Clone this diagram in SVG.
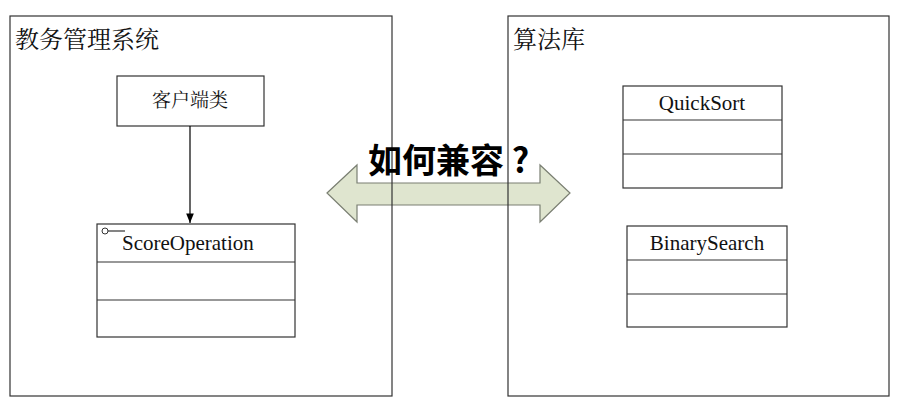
<svg xmlns="http://www.w3.org/2000/svg" width="900" height="412" viewBox="0 0 900 412">
<style>
.b{fill:none;stroke:#333;stroke-width:1.2}
.t{font-family:"Liberation Serif",serif;font-size:21px;fill:#111}
.c{font-family:"Liberation Serif","Noto Serif CJK SC","Noto Sans CJK SC",serif;fill:#111}
</style>
<defs><marker id="ah" viewBox="0 0 10 10" refX="10" refY="5" markerWidth="8" markerHeight="8" orient="auto"><path d="M0,1 L10,5 L0,9 z" fill="#000"/></marker></defs>
<rect width="900" height="412" fill="#fff"/>
<g id="arrow"><path d="M327,193 L357,165 L357,183 L540,183 L540,165 L570,193 L540,222 L540,205 L357,205 L357,222 Z" fill="#dfe5cf" stroke="#7a7f72" stroke-width="1.2"/></g>
<g id="sys1"><rect class="b" x="10" y="16" width="382" height="380"/><text class="c" x="15" y="48" font-size="24">教务管理系统</text></g>
<g id="sys2"><rect class="b" x="508" y="16" width="381" height="380"/><text class="c" x="513" y="48" font-size="24">算法库</text></g>
<g id="client"><rect class="b" x="117" y="76" width="147" height="50"/><text class="c" x="190" y="107" font-size="19" text-anchor="middle">客户端类</text></g>
<g id="score"><rect class="b" x="97" y="224" width="198" height="113"/><line class="b" x1="97" y1="262" x2="295" y2="262"/><line class="b" x1="97" y1="300" x2="295" y2="300"/><circle cx="105" cy="231" r="3" fill="#fff" stroke="#333"/><line class="b" x1="108" y1="231" x2="125" y2="231"/><text class="t" x="122" y="250">ScoreOperation</text></g>
<g id="quick"><rect class="b" x="623" y="86" width="159" height="102"/><line class="b" x1="623" y1="120" x2="782" y2="120"/><line class="b" x1="623" y1="154" x2="782" y2="154"/><text class="t" x="702" y="110" text-anchor="middle">QuickSort</text></g>
<g id="binary"><rect class="b" x="627" y="226" width="160" height="101"/><line class="b" x1="627" y1="260" x2="787" y2="260"/><line class="b" x1="627" y1="294" x2="787" y2="294"/><text class="t" x="707" y="250" text-anchor="middle">BinarySearch</text></g>
<g id="connectors"><line x1="190" y1="126" x2="190" y2="223" stroke="#000" stroke-width="1.2" marker-end="url(#ah)"/></g>
<text x="368" y="173" font-family="'Noto Sans CJK SC',sans-serif" font-weight="bold" font-size="34" fill="#000">如何兼容 ?</text>
</svg>
